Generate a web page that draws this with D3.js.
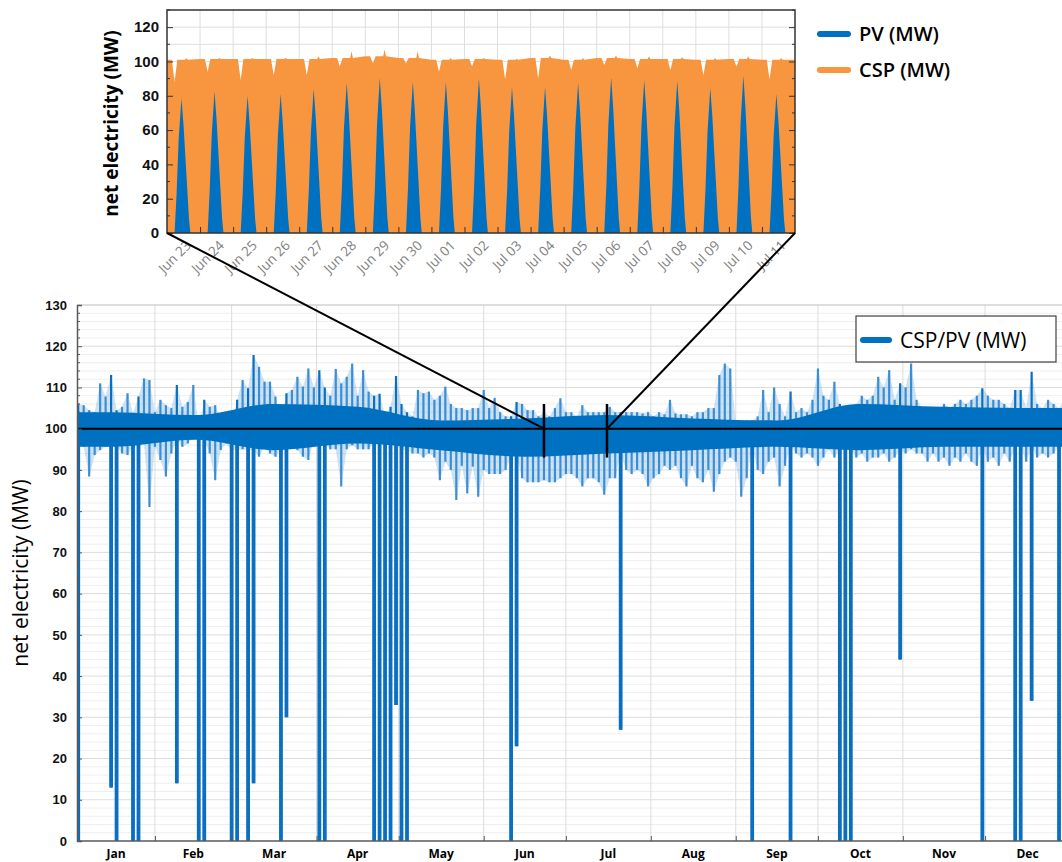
<!doctype html>
<html>
<head>
<meta charset="utf-8">
<title>net electricity</title>
<script src="https://d3js.org/d3.v7.min.js"></script>
<style>
  body { margin: 0; background: #fff; }
  svg { display: block; font-family: "Open Sans", sans-serif; }
</style>
</head>
<body>
<script>
// ---- main chart: hourly CSP/PV, read as 2-day bins (upper / lower envelope, MW)
var binHi = [105,106,105.7,104.5,104,111,107.8,113,104.5,105.3,
  108.6,103.7,107.8,112.2,111.8,104,107,105.7,105,110.6,
  105.3,106.5,110.6,100.5,107,105.3,105.7,102.5,102,101.3,
  107,111.8,109.8,117.9,115,111.4,111.4,107.8,102,108.6,
  109.4,112.6,110.2,114.6,110,114.2,110,108,114.5,111,
  112.6,115.8,108,114.2,109,108,108.5,103,105.3,112.8,
  106,104,103,109.4,108.6,109,107,108,110.2,106,
  105,105,104.5,105,105,109.4,105,107.5,104,103,
  103,106.5,106,104.5,104.5,103,104,103,105,107.4,
  104,104,103,105.7,104,104,104,104,105.3,104,
  104,104,104,104,103.7,104,103,104,103.5,107,
  103.7,103.5,103.5,103,104,104,105,105,113,115.8,
  114.6,102,102,102,102,103,109.4,104,110,106,
  103,109,104,105,104,107,114.6,108,107,111.4,
  106,103,102,106,108,107,108,112.6,110,114.2,
  107,111,110,115.8,107,105,104.5,105,104,106,
  105,106,107,106,107,108,109.8,108,107,107,
  106,105,109.4,109.4,105,113.8,106,105,107,106,
  105,107,105];
var binLo = [95,0,95.6,88.4,93.6,94.8,95.6,13,0,94,
  93.6,0,0,96.4,81,95.6,92.4,88.4,94,14,
  95.6,96.4,98,0,0,94,87.5,94.8,96.4,0,
  0,95,0,14,93.2,95.6,94,93.2,0,30,
  97,94.8,93.2,92.4,97,0,0,95,95,86,
  95,96,95,95,95,0,0,0,0,33,
  0,0,94,94,93,94,93,87.5,92,90,
  82.7,91,84.3,90.8,83.5,90,89,89,89,90,
  0,23,88,87,87,87,87.5,87,87,88,
  89,89,88,86,88,88,87,84,88,88,
  27,90,89,90,89,86,88,89,91,90,
  91,88,86,91,88,87,90,84.7,89,92,
  93,92,83.5,88,0,90,89,92,93,86,
  91,0,94,93,94,93,91,93,95,93,
  0,0,0,93,94,92,93,93,94,92,
  93,44,94,95,94,94,92,94,92,93,
  91,93,92,94,92,91,0,92,93,91,
  94,92,0,0,92,34,93,94,93,94,
  0,95,95];
// dense core of the band, one pair per month
var months = ["Jan","Feb","Mar","Apr","May","Jun","Jul","Aug","Sep","Oct","Nov","Dec"];
var coreHi = [104,103.3,106,105.3,102,102.5,103.3,102.5,102,106,105.3,105];
var coreLo = [95.6,97.3,94.8,96.4,94.8,93.2,94,94.8,95.6,94.8,95.6,95.6];
var mainTicks = [0,10,20,30,40,50,60,70,80,90,100,110,120,130];
var zoomMarks = ["2019-06-23","2019-07-16"];

// ---- inset: Jun 23 .. Jul 11
var insetDays = ["Jun 23","Jun 24","Jun 25","Jun 26","Jun 27","Jun 28","Jun 29","Jun 30",
  "Jul 01","Jul 02","Jul 03","Jul 04","Jul 05","Jul 06","Jul 07","Jul 08","Jul 09","Jul 10","Jul 11"];
var pvPeak = [78.6,82.5,80,81,84,87.4,90.3,88,88,90,85,85,87.4,90.7,89,88.7,84.5,91.6,81];
// daily PV profile: [hour, share of that day's peak]
var pvShape = [[5.5,0],[7,0.3],[8.5,0.7],[10.5,1],[12,0.8],[14,0.45],[16,0.1],[17,0]];
var cspLevel = [101,101.5,101.5,101.5,101.5,102,103,102,101,101.5,101,102,101,102,101.5,101.5,101,101.5,101];
var cspDip = [88,94,89,92,92,97,99,99,94,97,89.5,90,95,98,96,95,92,97,89.5];
var cspMax = [102,102,102,102,103,106,107,106,102,102,101.5,103.5,102,103.5,103,102.5,102,103,102];
var insetTicks = [0,20,40,60,80,100,120];

var W = 1062, H = 862;
var blue = "#0070c0", orange = "#f7963f";

var svg = d3.select("body").append("svg").attr("width", W).attr("height", H);

// ================= main chart =================
var x = d3.scaleTime().domain([new Date(2019,0,1), new Date(2020,0,1)]).range([70, 1070]);
var y = d3.scaleLinear().domain([0, 130]).range([841, 305]);
var left = 77, right = W;

svg.append("clipPath").attr("id", "clipMain")
  .append("rect").attr("x", left).attr("y", y(130)).attr("width", right - left).attr("height", y(0) - y(130));

var grid = svg.append("g");
grid.selectAll(".hminor").data(d3.range(2, 130, 2).filter(function(v){ return v % 10; }))
  .enter().append("line")
    .attr("x1", left).attr("x2", right)
    .attr("y1", function(d){ return y(d); }).attr("y2", function(d){ return y(d); })
    .attr("stroke", "#eeeeee");
grid.selectAll(".hmajor").data(mainTicks.slice(1, -1))
  .enter().append("line")
    .attr("x1", left).attr("x2", right)
    .attr("y1", function(d){ return y(d); }).attr("y2", function(d){ return y(d); })
    .attr("stroke", "#dcdcdc");

var monthStarts = d3.timeMonth.range(new Date(2019,1,1), new Date(2020,0,1));
grid.selectAll(".vgrid").data(monthStarts)
  .enter().append("line")
    .attr("x1", function(d){ return x(d); }).attr("x2", function(d){ return x(d); })
    .attr("y1", y(130)).attr("y2", y(0))
    .attr("stroke", "#dcdcdc");

var start = new Date(2019,0,1);
var bins = binHi.map(function(v, i){
  var dt = d3.timeDay.offset(start, 2 * i + 1);
  return {date: dt, hi: v, lo: binLo[i], core: coreLo[dt.getMonth()]};
});

var plot = svg.append("g").attr("clip-path", "url(#clipMain)");

// light haze between the spikes
plot.append("path")
  .datum(bins)
  .attr("fill", "#4d9ad8").attr("fill-opacity", 0.28)
  .attr("d", d3.area()
    .x(function(d){ return x(d.date); })
    .y0(function(d){ return y(d.lo < 75 ? d.core : d.lo); })
    .y1(function(d){ return y(d.hi); }));

plot.selectAll(".bin").data(bins)
  .enter().append("line")
    .attr("x1", function(d){ return x(d.date); })
    .attr("x2", function(d){ return x(d.date); })
    .attr("y1", function(d){ return y(d.hi); })
    .attr("y2", function(d){ return y(d.lo); })
    .attr("stroke", function(d){ return d.lo < 75 ? "#0a6fc0" : "#3a8ed6"; })
    .attr("stroke-width", 2.2);

// multi-hour outages drawn heavier
plot.selectAll(".dip").data(bins.filter(function(d){ return d.lo < 75; }))
  .enter().append("line")
    .attr("x1", function(d){ return x(d.date); })
    .attr("x2", function(d){ return x(d.date); })
    .attr("y1", y(98))
    .attr("y2", function(d){ return y(d.lo); })
    .attr("stroke", "#0a6fc0")
    .attr("stroke-width", 3.8);

var core = months.map(function(m, i){
  return {date: new Date(2019, i, 16), hi: coreHi[i], lo: coreLo[i]};
});
core.unshift({date: new Date(2019,0,1), hi: coreHi[0], lo: coreLo[0]});
core.push({date: new Date(2020,0,1), hi: coreHi[11], lo: coreLo[11]});

plot.append("path")
  .datum(core)
  .attr("fill", blue)
  .attr("d", d3.area()
    .x(function(d){ return x(d.date); })
    .y0(function(d){ return y(d.lo); })
    .y1(function(d){ return y(d.hi); })
    .curve(d3.curveMonotoneX));

// reference level
svg.append("line")
  .attr("x1", left).attr("x2", right)
  .attr("y1", y(100)).attr("y2", y(100))
  .attr("stroke", "#000").attr("stroke-width", 2);

// frame
svg.append("line").attr("x1", left).attr("x2", right).attr("y1", y(130)).attr("y2", y(130))
  .attr("stroke", "#bdbdbd").attr("stroke-width", 1.2);

var yAxis = svg.append("g")
  .attr("transform", "translate(" + left + ",0)")
  .call(d3.axisLeft(y).tickValues(mainTicks).tickSize(-5).tickPadding(10));
yAxis.select(".domain").attr("stroke", "#595959").attr("stroke-width", 1.5);
yAxis.selectAll(".tick line").attr("stroke", "#595959");
yAxis.selectAll(".tick text").attr("font-size", 13).attr("font-weight", 700).attr("fill", "#111");

svg.selectAll(".yminor").data(d3.range(2, 130, 2).filter(function(v){ return v % 10; }))
  .enter().append("line")
    .attr("x1", left).attr("x2", left + 3)
    .attr("y1", function(d){ return y(d); }).attr("y2", function(d){ return y(d); })
    .attr("stroke", "#595959");

var xAxis = svg.append("g")
  .attr("transform", "translate(0," + y(0) + ")")
  .call(d3.axisBottom(x).tickValues(monthStarts).tickSize(-5).tickFormat(""));
xAxis.select(".domain").remove();
xAxis.selectAll(".tick line").attr("stroke", "#595959");
svg.append("line").attr("x1", left).attr("x2", right).attr("y1", y(0)).attr("y2", y(0))
  .attr("stroke", "#595959").attr("stroke-width", 1.5);

svg.selectAll(".month").data(months)
  .enter().append("text")
    .attr("x", function(d, i){
      var a = Math.max(x(new Date(2019, i, 1)), left), b = x(new Date(2019, i + 1, 1));
      return (a + b) / 2;
    })
    .attr("y", 858)
    .attr("text-anchor", "middle")
    .attr("font-size", 12).attr("font-weight", 700)
    .text(function(d){ return d; });

svg.append("text")
  .attr("transform", "translate(28," + ((y(0) + y(130)) / 2) + ") rotate(-90)")
  .attr("text-anchor", "middle")
  .attr("font-size", 21)
  .text("net electricity (MW)");

// legend
var lg = svg.append("g");
lg.append("rect").attr("x", 856).attr("y", 316).attr("width", 200).attr("height", 46)
  .attr("fill", "#fff").attr("stroke", "#404040").attr("stroke-width", 1.2);
lg.append("line").attr("x1", 863).attr("x2", 889).attr("y1", 340).attr("y2", 340)
  .attr("stroke", blue).attr("stroke-width", 6).attr("stroke-linecap", "round");
lg.append("text").attr("x", 900).attr("y", 348).attr("font-size", 21).text("CSP/PV (MW)");

// ================= inset =================
var i0 = new Date(2019,5,23), i1 = new Date(2019,6,12);
var xi = d3.scaleTime().domain([i0, i1]).range([167, 795]);
var yi = d3.scaleLinear().domain([0, 130]).range([233, 10]);

var ig = svg.append("g");
ig.selectAll(".ih").data(d3.range(10, 130, 10))
  .enter().append("line")
    .attr("x1", xi.range()[0]).attr("x2", xi.range()[1])
    .attr("y1", function(d){ return yi(d); }).attr("y2", function(d){ return yi(d); })
    .attr("stroke", "#dedede");
var midnights = d3.timeDay.range(d3.timeDay.offset(i0, 1), i1);
ig.selectAll(".iv").data(midnights)
  .enter().append("line")
    .attr("x1", function(d){ return xi(d); }).attr("x2", function(d){ return xi(d); })
    .attr("y1", yi(130)).attr("y2", yi(0))
    .attr("stroke", "#dedede");

var cspPts = [];
cspLevel.forEach(function(l, i){
  var day = d3.timeDay.offset(i0, i);
  [[0, l], [3.5, l], [5.5, cspDip[i]], [7.5, l], [13, l], [14, cspMax[i]], [15, l]].forEach(function(p){
    cspPts.push({t: d3.timeMinute.offset(day, p[0] * 60), v: p[1]});
  });
});
cspPts.push({t: i1, v: cspLevel[cspLevel.length - 1]});

var pvPts = [];
pvPeak.forEach(function(p, i){
  var day = d3.timeDay.offset(i0, i);
  pvShape.forEach(function(s){
    pvPts.push({t: d3.timeMinute.offset(day, s[0] * 60), v: s[1] * p});
  });
});

var iarea = d3.area()
  .x(function(d){ return xi(d.t); })
  .y0(yi(0))
  .y1(function(d){ return yi(d.v); });

ig.append("path").datum(cspPts).attr("fill", orange).attr("d", iarea);
ig.append("path").datum(pvPts).attr("fill", blue).attr("d", iarea);

// ticks
var iyl = ig.append("g").attr("transform", "translate(" + xi.range()[0] + ",0)")
  .call(d3.axisLeft(yi).tickValues(insetTicks).tickSize(-6).tickPadding(8));
iyl.select(".domain").remove();
iyl.selectAll(".tick line").attr("stroke", "#333");
iyl.selectAll(".tick text").attr("font-size", 15).attr("font-weight", 700).attr("fill", "#111");

var iyr = ig.append("g").attr("transform", "translate(" + xi.range()[1] + ",0)")
  .call(d3.axisRight(yi).tickValues(insetTicks).tickSize(-6).tickFormat(""));
iyr.select(".domain").remove();
iyr.selectAll(".tick line").attr("stroke", "#333");

[[xi.range()[0], 1], [xi.range()[1], -1]].forEach(function(s){
  ig.selectAll(null).data([10, 30, 50, 70, 90, 110, 130])
    .enter().append("line")
      .attr("x1", s[0]).attr("x2", s[0] + 3 * s[1])
      .attr("y1", function(d){ return yi(d); }).attr("y2", function(d){ return yi(d); })
      .attr("stroke", "#333");
});

var ixb = ig.append("g").attr("transform", "translate(0," + yi(0) + ")")
  .call(d3.axisBottom(xi).tickValues(midnights).tickSize(-6).tickFormat(""));
ixb.select(".domain").remove();
ixb.selectAll(".tick line").attr("stroke", "#333");

ig.append("rect")
  .attr("x", xi.range()[0]).attr("y", yi(130))
  .attr("width", xi.range()[1] - xi.range()[0]).attr("height", yi(0) - yi(130))
  .attr("fill", "none").attr("stroke", "#333").attr("stroke-width", 1.5);

ig.selectAll(".dlab").data(insetDays)
  .enter().append("text")
    .attr("transform", function(d, i){
      var t = d3.timeHour.offset(d3.timeDay.offset(i0, i), 12);
      return "translate(" + (xi(t) + 5) + ",243) rotate(-45)";
    })
    .attr("text-anchor", "end")
    .attr("dy", "0.35em")
    .attr("font-size", 13.5)
    .attr("fill", "#808080")
    .text(function(d){ return d; });

ig.append("text")
  .attr("transform", "translate(118," + ((yi(0) + yi(130)) / 2 + 2) + ") rotate(-90)")
  .attr("text-anchor", "middle")
  .attr("font-size", 19).attr("font-weight", 700)
  .text("net electricity (MW)");

var il = ig.append("g");
[["PV (MW)", blue, 34], ["CSP (MW)", orange, 70]].forEach(function(r){
  il.append("line").attr("x1", 820).attr("x2", 848).attr("y1", r[2]).attr("y2", r[2])
    .attr("stroke", r[1]).attr("stroke-width", 6).attr("stroke-linecap", "round");
  il.append("text").attr("x", 859).attr("y", r[2] + 7)
    .attr("font-size", 20).attr("font-weight", 600).text(r[0]);
});

// ================= zoom connectors =================
var marks = zoomMarks.map(function(s){ return d3.timeParse("%Y-%m-%d")(s); });
svg.selectAll(".mark").data(marks)
  .enter().append("line")
    .attr("x1", function(d){ return x(d); }).attr("x2", function(d){ return x(d); })
    .attr("y1", y(106)).attr("y2", y(93))
    .attr("stroke", "#000").attr("stroke-width", 2.5);

svg.append("line")
  .attr("x1", xi.range()[0]).attr("y1", yi(0))
  .attr("x2", x(marks[0])).attr("y2", y(100))
  .attr("stroke", "#000").attr("stroke-width", 2);
svg.append("line")
  .attr("x1", xi.range()[1]).attr("y1", yi(0))
  .attr("x2", x(marks[1])).attr("y2", y(100))
  .attr("stroke", "#000").attr("stroke-width", 2);
</script>
</body>
</html>
